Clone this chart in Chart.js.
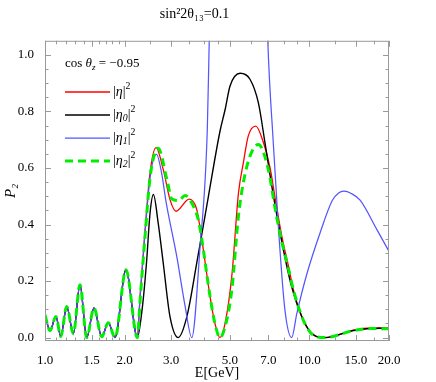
<!DOCTYPE html>
<html>
<head>
<meta charset="utf-8">
<script src="https://cdn.jsdelivr.net/npm/chart.js@4.4.1/dist/chart.umd.min.js"></script>
<style>
  body { margin: 0; background: #fff; }
  canvas { display: block; }
</style>
</head>
<body>
<canvas id="chart" width="436" height="382"></canvas>
<script>
// low energy oscillations, shared by all four curves
let eLow = [1.0, 1.045, 1.10, 1.147, 1.208, 1.28, 1.356, 1.438, 1.532, 1.639, 1.735, 1.84, 2.024];
let pLow = [0.08, 0.025, 0.075, 0.004, 0.11, 0.014, 0.187, 0.0, 0.105, 0.003, 0.053, 0.0, 0.24];

let eRed = [2.235, 2.288, 2.39, 2.496, 2.63, 2.80, 2.97, 3.13, 3.51, 3.75, 3.92, 4.21, 4.39, 4.59, 4.80, 5.09, 5.39, 5.63, 5.87, 6.27, 6.70, 7.1, 7.43, 7.86, 8.3, 8.75, 9.5, 10.3, 11.45, 14.67, 17.0, 20.0];
let pRed = [0, 0.145, 0.38, 0.583, 0.672, 0.595, 0.488, 0.447, 0.49, 0.453, 0.346, 0.145, 0.051, 0, 0.051, 0.22, 0.51, 0.62, 0.713, 0.748, 0.69, 0.6, 0.49, 0.36, 0.26, 0.16, 0.06, 0.012, 0, 0.026, 0.034, 0.034];

let eBlack = [2.235, 2.33, 2.42, 2.496, 2.57, 2.68, 2.80, 2.97, 3.19, 3.44, 3.75, 4.15, 4.59, 4.80, 5.01, 5.47, 5.96, 6.41, 6.79, 7.21, 7.86, 8.57, 9.9, 11.45, 14.67, 18.5, 20.0];
let pBlack = [0, 0.1, 0.264, 0.44, 0.506, 0.405, 0.264, 0.074, 0, 0.074, 0.264, 0.5, 0.73, 0.807, 0.89, 0.935, 0.914, 0.831, 0.69, 0.535, 0.34, 0.18, 0.03, 0, 0.025, 0.033, 0.031];

let eBlue = [2.235, 2.288, 2.39, 2.50, 2.64, 2.76, 2.87, 3.15, 3.39, 3.59, 3.86, 4.11, 4.18, 4.4, 4.8, 5.4, 6.0, 6.5, 6.96, 7.30, 7.63, 8.08, 8.57, 8.96, 9.78, 10.97, 12.2, 12.9, 13.5, 14.4, 15.55, 18.0, 20.0];
let pBlue = [0, 0.14, 0.37, 0.57, 0.648, 0.583, 0.48, 0.287, 0.11, 0, 0.323, 0.736, 1.05, 1.9, 2.9, 3.4, 3.0, 2.1, 1.05, 0.69, 0.394, 0.098, 0, 0.085, 0.225, 0.37, 0.485, 0.512, 0.518, 0.51, 0.486, 0.382, 0.305];

let eGreen = [2.235, 2.288, 2.39, 2.50, 2.68, 2.89, 3.02, 3.2, 3.39, 3.57, 3.80, 3.92, 4.21, 4.39, 4.59, 4.80, 5.09, 5.39, 5.63, 5.96, 6.41, 6.99, 7.43, 7.86, 8.3, 8.75, 9.5, 10.3, 11.45, 14.67, 17.0, 20.0];
let pGreen = [0, 0.13, 0.36, 0.57, 0.67, 0.56, 0.49, 0.485, 0.503, 0.48, 0.417, 0.346, 0.145, 0.051, 0, 0.039, 0.17, 0.43, 0.55, 0.642, 0.683, 0.595, 0.453, 0.34, 0.25, 0.16, 0.06, 0.01, 0, 0.025, 0.032, 0.031];

let xTicks = [1.0, 1.5, 2.0, 3.0, 5.0, 7.0, 10.0, 15.0, 20.0];
let xMinor = [1.1, 1.2, 1.3, 1.4, 1.6, 1.7, 1.8, 1.9, 2.5, 3.5, 4.0, 4.5, 6.0, 8.0, 9.0, 12.5, 17.5];
let yTicks = [0.0, 0.2, 0.4, 0.6, 0.8, 1.0];
let yMinor = [0.05, 0.1, 0.15, 0.25, 0.3, 0.35, 0.45, 0.5, 0.55, 0.65, 0.7, 0.75, 0.85, 0.9, 0.95];

let seriesNames = ["|η|²", "|η₀|²", "|η₁|²", "|η₂|²"];
// rich pieces for the legend: i = italic, b = subscript, p = superscript
let legendParts = [
  [["|", ""], ["η", "i"], ["|", ""], ["2", "p"]],
  [["|", ""], ["η", "i"], ["0", "ib"], ["|", ""], ["2", "p"]],
  [["|", ""], ["η", "i"], ["1", "ib"], ["|", ""], ["2", "p"]],
  [["|", ""], ["η", "i"], ["2", "ib"], ["|", ""], ["2", "p"]],
];
let headerParts = [["cos ", ""], ["θ", "i"], ["z", "ib"], [" = −0.95", ""]];

const FONT = '"Liberation Serif", "Times New Roman", serif';
Chart.defaults.font.family = FONT;
Chart.defaults.color = "#000";

function pts(es, ps) {
  return es.map((e, i) => ({ x: e, y: ps[i] }));
}
function withLow(es, ps) {
  return pts(eLow.concat(es), pLow.concat(ps));
}

function drawRich(ctx, parts, x, y, size) {
  parts.forEach(([text, kind]) => {
    let s = size, dy = 0;
    let style = kind.includes("i") ? "italic " : "";
    if (kind.includes("b")) { s = size * 0.7; dy = size * 0.28; }
    if (kind.includes("p")) { s = size * 0.7; dy = -size * 0.38; }
    ctx.font = style + s + "px " + FONT;
    ctx.fillText(text, x, y + dy);
    x += ctx.measureText(text).width;
  });
}

const framePlugin = {
  id: "frame",
  afterDatasetsDraw(chart) {
    const { ctx, chartArea: a, scales } = chart;
    ctx.save();
    ctx.strokeStyle = "#9a9a9a";
    ctx.lineWidth = 1;
    ctx.strokeRect(a.left + 0.5, a.top + 0.5, a.right - a.left - 1, a.bottom - a.top - 1);
    const seg = (x1, y1, x2, y2) => {
      ctx.beginPath(); ctx.moveTo(x1, y1); ctx.lineTo(x2, y2); ctx.stroke();
    };
    const xt = (v, len) => {
      const px = Math.round(scales.x.getPixelForValue(v)) + 0.5;
      seg(px, a.bottom, px, a.bottom - len);
      seg(px, a.top, px, a.top + len);
    };
    const yt = (v, len) => {
      const py = Math.round(scales.y.getPixelForValue(v)) + 0.5;
      seg(a.left, py, a.left + len, py);
      seg(a.right, py, a.right - len, py);
    };
    xTicks.forEach(v => xt(v, 6));
    xMinor.forEach(v => xt(v, 3.5));
    yTicks.forEach(v => yt(v, 6));
    yMinor.forEach(v => yt(v, 3.5));
    ctx.restore();
  },
  afterDraw(chart) {
    const ctx = chart.ctx;
    ctx.save();
    ctx.fillStyle = "#000";
    ctx.textBaseline = "middle";
    ctx.textAlign = "left";
    drawRich(ctx, headerParts, 65, 64, 13);
    chart.data.datasets.forEach((ds, i) => {
      const y = 92 + i * 23;
      ctx.save();
      ctx.strokeStyle = ds.borderColor;
      ctx.lineWidth = ds.borderWidth;
      ctx.setLineDash(ds.borderDash || []);
      ctx.beginPath(); ctx.moveTo(65, y); ctx.lineTo(110, y); ctx.stroke();
      ctx.restore();
      drawRich(ctx, legendParts[i], 113, y, 14);
    });
    ctx.restore();
  },
};

let ctx = document.getElementById("chart").getContext("2d");
let chart = new Chart(ctx, {
  type: "line",
  data: {
    datasets: [
      { label: seriesNames[0], data: withLow(eRed, pRed), borderColor: "#ff0000", borderWidth: 1.3, order: 4 },
      { label: seriesNames[1], data: withLow(eBlack, pBlack), borderColor: "#000000", borderWidth: 1.4, order: 3 },
      { label: seriesNames[2], data: withLow(eBlue, pBlue), borderColor: "#5555ff", borderWidth: 1.25, order: 2 },
      { label: seriesNames[3], data: withLow(eGreen, pGreen), borderColor: "#00ee00", borderWidth: 3, borderDash: [8, 5], order: 1 },
    ],
  },
  options: {
    responsive: false,
    animation: false,
    devicePixelRatio: 1,
    elements: {
      point: { radius: 0 },
      line: { cubicInterpolationMode: "monotone", fill: false },
    },
    layout: { padding: { left: 0, right: 47, top: 0, bottom: 0 } },
    plugins: {
      legend: { display: false },
      tooltip: { enabled: false },
      title: {
        display: true,
        text: "sin²2θ₁₃=0.1",
        font: { size: 14, weight: "normal" },
        padding: { top: 6, bottom: 18 },
      },
    },
    scales: {
      x: {
        type: "logarithmic",
        min: 1,
        max: 20,
        grid: { display: false },
        border: { display: false },
        afterBuildTicks: (s) => { s.ticks = xTicks.map(v => ({ value: v })); },
        afterFit: (s) => { s.height = 41; },
        ticks: { font: { size: 13 }, padding: 4, maxRotation: 0, autoSkip: false, callback: (v) => Number(v).toFixed(1) },
        title: { display: true, text: "E[GeV]", font: { size: 14 }, padding: { top: 0, bottom: 0 } },
      },
      y: {
        min: -0.012,
        max: 1.05,
        grid: { display: false },
        border: { display: false },
        afterBuildTicks: (s) => { s.ticks = yTicks.map(v => ({ value: v })); },
        afterFit: (s) => { s.width = 45; },
        ticks: { font: { size: 13 }, padding: 3, callback: (v) => Number(v).toFixed(1) },
        title: { display: true, text: "P₂", font: { size: 15, style: "italic" }, padding: { top: 2, bottom: 0 } },
      },
    },
  },
  plugins: [framePlugin],
});
</script>
</body>
</html>
